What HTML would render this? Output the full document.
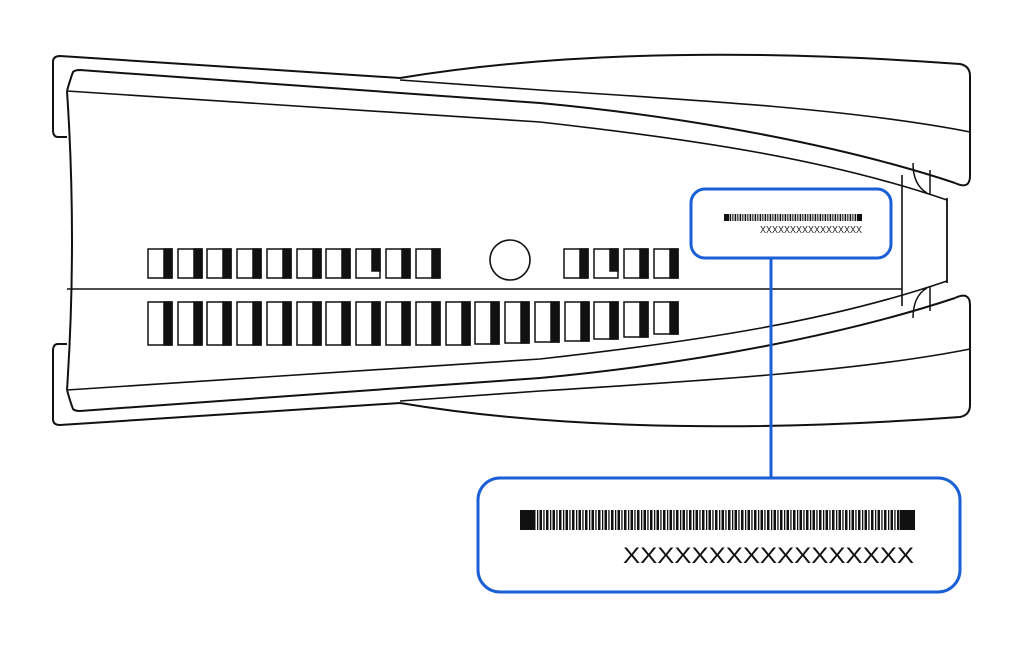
<!DOCTYPE html>
<html><head><meta charset="utf-8"><style>html,body{margin:0;padding:0;background:#fff}svg{display:block}</style></head>
<body>
<svg width="1024" height="655" viewBox="0 0 1024 655" xmlns="http://www.w3.org/2000/svg">
<defs>
<pattern id="bc" x="0" y="0" width="13" height="40" patternUnits="userSpaceOnUse">
<rect x="0" y="0" width="2.5" height="40" fill="#111"/>
<rect x="4" y="0" width="1.3" height="40" fill="#111"/>
<rect x="6.5" y="0" width="2.5" height="40" fill="#111"/>
<rect x="10.3" y="0" width="1.3" height="40" fill="#111"/>
</pattern>
<pattern id="bcs" x="0" y="0" width="5" height="20" patternUnits="userSpaceOnUse">
<rect x="0" y="0" width="1.2" height="20" fill="#111"/>
<rect x="2.2" y="0" width="0.7" height="20" fill="#111"/>
<rect x="3.6" y="0" width="0.8" height="20" fill="#111"/>
</pattern>
<g id="half" fill="none" stroke="#111" stroke-width="2">
<path d="M67,137 L58,137 Q53,137 53,130 L53,62 Q53,56 60,56 L400,78"/>
<path d="M67,91 Q70,80 73,72 Q75,70 80,70 L540,103 C700,118 850,148 955,183"/>
<path d="M400,78 C520,58 700,45 960,64 Q970,66 970,76 L970,176 Q970,190 955,183"/>
<path d="M400,80 L540,90 C700,100 860,110 970,132" stroke-width="1.6"/>
<path d="M67,91 L540,122 C700,140 830,160 947,200" stroke-width="1.6"/>
<path d="M913,163 Q913,185 927,193" stroke-width="1.5"/>
<path d="M930,170 L930,195" stroke-width="1.5"/>
</g>
</defs>
<use href="#half"/>
<use href="#half" transform="matrix(1,0,0,-1,0,481)"/>
<g fill="none" stroke="#111" stroke-width="2">
<path d="M67,91 Q77,240 67,390"/>
<path d="M902,175 L902,306" stroke-width="1.6"/>
<path d="M947,198 L947,283" stroke-width="1.8"/>
<path d="M67,289 L902,289" stroke-width="1.5"/>
<circle cx="510" cy="260" r="20" stroke-width="1.6"/>
</g>
<g stroke="#111" stroke-width="1.5" fill="#fff">
<!-- top row vents -->
<rect x="148" y="249" width="24" height="29"/><rect x="164" y="249" width="8" height="29" fill="#111"/>
<rect x="178" y="249" width="24" height="29"/><rect x="194" y="249" width="8" height="29" fill="#111"/>
<rect x="207" y="249" width="24" height="29"/><rect x="223" y="249" width="8" height="29" fill="#111"/>
<rect x="237" y="249" width="24" height="29"/><rect x="253" y="249" width="8" height="29" fill="#111"/>
<rect x="267" y="249" width="24" height="29"/><rect x="283" y="249" width="8" height="29" fill="#111"/>
<rect x="297" y="249" width="24" height="29"/><rect x="313" y="249" width="8" height="29" fill="#111"/>
<rect x="326" y="249" width="24" height="29"/><rect x="342" y="249" width="8" height="29" fill="#111"/>
<rect x="356" y="249" width="24" height="29"/><rect x="372" y="249" width="8" height="22" fill="#111"/>
<rect x="386" y="249" width="24" height="29"/><rect x="402" y="249" width="8" height="29" fill="#111"/>
<rect x="416" y="249" width="24" height="29"/><rect x="432" y="249" width="8" height="29" fill="#111"/>
<rect x="564" y="249" width="24" height="29"/><rect x="580" y="249" width="8" height="29" fill="#111"/>
<rect x="594" y="249" width="24" height="29"/><rect x="610" y="249" width="8" height="22" fill="#111"/>
<rect x="624" y="249" width="24" height="29"/><rect x="640" y="249" width="8" height="29" fill="#111"/>
<rect x="654" y="249" width="24" height="29"/><rect x="670" y="249" width="8" height="29" fill="#111"/>
<!-- bottom row vents -->
<rect x="148" y="302" width="24" height="43"/><rect x="164" y="302" width="8" height="43" fill="#111"/>
<rect x="178" y="302" width="24" height="43"/><rect x="194" y="302" width="8" height="43" fill="#111"/>
<rect x="207" y="302" width="24" height="43"/><rect x="223" y="302" width="8" height="43" fill="#111"/>
<rect x="237" y="302" width="24" height="43"/><rect x="253" y="302" width="8" height="43" fill="#111"/>
<rect x="267" y="302" width="24" height="43"/><rect x="283" y="302" width="8" height="43" fill="#111"/>
<rect x="297" y="302" width="24" height="43"/><rect x="313" y="302" width="8" height="43" fill="#111"/>
<rect x="326" y="302" width="24" height="43"/><rect x="342" y="302" width="8" height="43" fill="#111"/>
<rect x="356" y="302" width="24" height="43"/><rect x="372" y="302" width="8" height="43" fill="#111"/>
<rect x="386" y="302" width="24" height="43"/><rect x="402" y="302" width="8" height="43" fill="#111"/>
<rect x="416" y="302" width="24" height="43"/><rect x="432" y="302" width="8" height="43" fill="#111"/>
<rect x="446" y="302" width="24" height="43"/><rect x="462" y="302" width="8" height="43" fill="#111"/>
<rect x="475" y="302" width="24" height="42"/><rect x="491" y="302" width="8" height="42" fill="#111"/>
<rect x="505" y="302" width="24" height="41"/><rect x="521" y="302" width="8" height="41" fill="#111"/>
<rect x="535" y="302" width="24" height="40"/><rect x="551" y="302" width="8" height="40" fill="#111"/>
<rect x="565" y="302" width="24" height="39"/><rect x="581" y="302" width="8" height="39" fill="#111"/>
<rect x="594" y="302" width="24" height="37"/><rect x="610" y="302" width="8" height="37" fill="#111"/>
<rect x="624" y="302" width="24" height="35"/><rect x="640" y="302" width="8" height="35" fill="#111"/>
<rect x="654" y="302" width="24" height="32"/><rect x="670" y="302" width="8" height="32" fill="#111"/>
</g>
<!-- callouts -->
<g fill="none" stroke="#1a5fd6" stroke-width="3">
<rect x="691" y="189" width="200" height="69" rx="14"/>
<line x1="771" y1="258" x2="771" y2="478"/>
<rect x="478" y="478" width="482" height="114" rx="22" fill="#fff"/>
</g>
<rect x="725" y="214" width="137" height="7" fill="url(#bcs)"/>
<rect x="724" y="214" width="5" height="7" fill="#111"/>
<rect x="857" y="214" width="5" height="7" fill="#111"/>
<text x="862" y="233" text-anchor="end" font-family="Liberation Sans, sans-serif" font-size="10" fill="#222" textLength="102" lengthAdjust="spacingAndGlyphs">XXXXXXXXXXXXXXXXX</text>
<rect x="534" y="510" width="366" height="20" fill="url(#bc)"/>
<rect x="520" y="510" width="14" height="20" fill="#111"/>
<rect x="900" y="510" width="15" height="20" fill="#111"/>
<text x="914" y="563" text-anchor="end" font-family="Liberation Sans, sans-serif" font-size="22" fill="#111" textLength="291" lengthAdjust="spacingAndGlyphs">XXXXXXXXXXXXXXXXX</text>
</svg>
</body></html>
